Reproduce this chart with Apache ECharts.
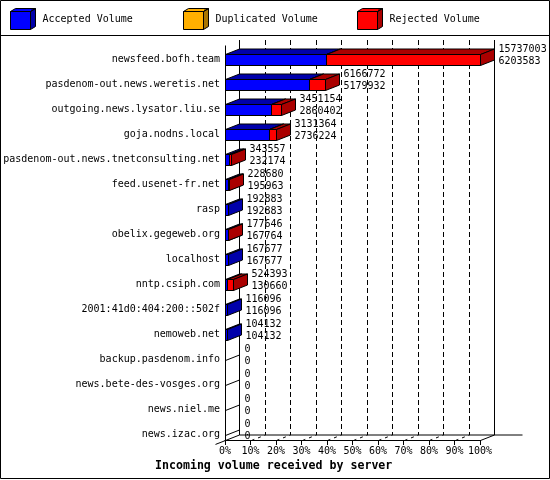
<!DOCTYPE html>
<html><head><meta charset="utf-8">
<script src="https://cdn.jsdelivr.net/npm/echarts@6/dist/echarts.min.js"></script>
<style>html,body{margin:0;padding:0;background:#fff}#chart{width:550px;height:480px}</style>
</head><body><div id="chart"></div>
<script>
const categories = [
  'newsfeed.bofh.team',
  'pasdenom-out.news.weretis.net',
  'outgoing.news.lysator.liu.se',
  'goja.nodns.local',
  'pasdenom-out.news.tnetconsulting.net',
  'feed.usenet-fr.net',
  'rasp',
  'obelix.gegeweb.org',
  'localhost',
  'nntp.csiph.com',
  '2001:41d0:404:200::502f',
  'nemoweb.net',
  'backup.pasdenom.info',
  'news.bete-des-vosges.org',
  'news.niel.me',
  'news.izac.org'
];
const totalVolume = [15737003, 6166772, 3451154, 3131364, 343557, 228680, 192883, 177646, 167677, 524393, 116096, 104132, 0, 0, 0, 0];
const acceptedVolume = [6203583, 5179932, 2860402, 2736224, 232174, 195963, 192883, 167764, 167677, 130660, 116096, 104132, 0, 0, 0, 0];
const duplicatedVolume = [0, 0, 0, 0, 0, 0, 0, 0, 0, 0, 0, 0, 0, 0, 0, 0];
const percentTicks = [0, 10, 20, 30, 40, 50, 60, 70, 80, 90, 100];
const seriesNames = ['Accepted Volume', 'Duplicated Volume', 'Rejected Volume'];
const frontColors = ['#0000FF', '#FFAF00', '#FF0000'];
const sideColors = ['#0000AA', '#AA7500', '#AA0000'];

const MONO = "'DejaVu Sans Mono', monospace";
const DX = 14, DY = 5.5, HALF = 5.5;
const maxTotal = Math.max.apply(null, totalVolume);
const pct = v => v / maxTotal * 100;
const r = v => Math.round(v) + 0.5;

const segAccepted = categories.map((c, i) => [0, pct(acceptedVolume[i]), i]);
const segDuplicated = categories.map((c, i) => [pct(acceptedVolume[i]), pct(acceptedVolume[i] + duplicatedVolume[i]), i]);
const segRejected = categories.map((c, i) => [pct(acceptedVolume[i] + duplicatedVolume[i]), pct(totalVolume[i]), i]);
const labelData = categories.map((c, i) => [pct(totalVolume[i]), i]);
const frameData = percentTicks.map(v => [v, 0]);

function barRenderer(k) {
  return function (params, api) {
    const a = api.coord([api.value(0), api.value(2)]);
    const b = api.coord([api.value(1), api.value(2)]);
    if (!(b[0] - a[0] > 0)) return null;
    const x0 = r(a[0]), x1 = r(b[0]);
    const yt = r(a[1] - HALF), yb = r(a[1] + HALF);
    const st = (fill) => ({ fill: fill, stroke: '#000', lineWidth: 1 });
    return {
      type: 'group', children: [
        { type: 'polygon', shape: { points: [[x0, yt], [x1, yt], [x1, yb], [x0, yb]] }, style: st(frontColors[k]) },
        { type: 'polygon', shape: { points: [[x0, yt], [x0 + DX, yt - DY], [x1 + DX, yt - DY], [x1, yt]] }, style: st(sideColors[k]) },
        { type: 'polygon', shape: { points: [[x1, yt], [x1 + DX, yt - DY], [x1 + DX, yb - DY], [x1, yb]] }, style: st(sideColors[k]) }
      ]
    };
  };
}

function frameRenderer(params, api) {
  const v = api.value(0);
  const top = api.coord([v, 0]);
  const bot = api.coord([v, categories.length - 1]);
  const band = api.size([0, 1])[1];
  const x = r(top[0]);
  const yFrontTop = r(top[1] - band / 2 - 2);
  const yFloor = Math.round(bot[1] + HALF) + 0.5;
  const solid = { stroke: '#000', lineWidth: 1 };
  const dashed = { stroke: '#000', lineWidth: 1, lineDash: [5, 3] };
  const children = [];
  const isFirst = v === percentTicks[0];
  const isLast = v === percentTicks[percentTicks.length - 1];
  children.push({ type: 'line', shape: { x1: x + DX, y1: yFrontTop - DY, x2: x + DX, y2: yFloor - DY }, style: (isFirst || isLast) ? solid : dashed });
  if (isFirst) {
    children.push({ type: 'line', shape: { x1: x, y1: yFrontTop, x2: x, y2: yFloor }, style: solid });
    children.push({ type: 'line', shape: { x1: x - 10, y1: yFloor + DY * 10 / DX, x2: x + DX, y2: yFloor - DY }, style: solid });
  } else if (isLast) {
    const x0 = r(api.coord([percentTicks[0], 0])[0]);
    children.push({ type: 'line', shape: { x1: x, y1: yFloor, x2: x + DX, y2: yFloor - DY }, style: solid });
    children.push({ type: 'line', shape: { x1: x0 + DX, y1: yFloor - DY, x2: x + DX + 28, y2: yFloor - DY }, style: solid });
  } else {
    children.push({ type: 'line', shape: { x1: x, y1: yFloor, x2: x + DX, y2: yFloor - DY }, style: { stroke: '#000', lineWidth: 1, lineDash: [3, 4] } });
  }
  return { type: 'group', children: children };
}

function labelRenderer(params, api) {
  const i = params.dataIndex;
  const p = api.coord([api.value(0), api.value(1)]);
  const x = r(p[0]);
  const children = [];
  if (totalVolume[i] === 0) {
    children.push({ type: 'line', shape: { x1: x, y1: r(p[1]), x2: x + DX, y2: r(p[1]) - DY }, style: { stroke: '#000', lineWidth: 1 } });
  }
  children.push({
    type: 'text', x: x + DX + (totalVolume[i] ? 4 : 5), y: p[1] - 4.5,
    style: { text: totalVolume[i] + '\n' + acceptedVolume[i], fontFamily: MONO, fontSize: 10, lineHeight: 12, fill: '#000', align: 'left', verticalAlign: 'middle' }
  });
  return { type: 'group', children: children };
}

const cubeIcon = 'path://M0 3L20 3L20 21L0 21Z M0 3L5 0L25 0L20 3Z M20 3L25 0L25 18L20 21Z';
function legendFor(k, left) {
  return {
    left: left, top: 8, padding: 0, itemWidth: 25, itemHeight: 21,
    textStyle: { fontFamily: MONO, fontSize: 10, color: '#000', padding: [0, 0, 0, 2] },
    data: [{
      name: seriesNames[k], icon: cubeIcon,
      itemStyle: {
        color: { type: 'linear', x: 0, y: 0, x2: 1, y2: 0, colorStops: [
          { offset: 0, color: frontColors[k] }, { offset: 0.8, color: frontColors[k] },
          { offset: 0.8, color: sideColors[k] }, { offset: 1, color: sideColors[k] }] },
        borderColor: '#000', borderWidth: 1
      }
    }]
  };
}

const chart = echarts.init(document.getElementById('chart'), null, { renderer: 'canvas', width: 550, height: 480 });
chart.setOption({
  animation: false,
  backgroundColor: '#fff',
  title: {
    text: 'Incoming volume received by server', left: 155, top: 460, padding: 0,
    textStyle: { fontFamily: MONO, fontSize: 11.6, fontWeight: 'bold', color: '#000' }
  },
  legend: [legendFor(0, 10), legendFor(1, 183), legendFor(2, 357)],
  grid: { left: 225, width: 255, top: 47, height: 400, containLabel: false },
  xAxis: {
    type: 'value', min: percentTicks[0], max: percentTicks[percentTicks.length - 1],
    interval: percentTicks[1] - percentTicks[0], offset: -7,
    axisLine: { show: true, lineStyle: { color: '#000', width: 1 } },
    axisTick: { show: true, length: 5, lineStyle: { color: '#000' } },
    axisLabel: { formatter: '{value}%', margin: 6, fontFamily: MONO, fontSize: 10, color: '#000' },
    splitLine: { show: false }
  },
  yAxis: {
    type: 'category', inverse: true, data: categories,
    axisLine: { show: false }, axisTick: { show: false }, splitLine: { show: false },
    axisLabel: { margin: 5, fontFamily: MONO, fontSize: 10, color: '#000', interval: 0 }
  },
  graphic: [
    { type: 'rect', silent: true, shape: { x: 0.5, y: 0.5, width: 549, height: 478 }, style: { fill: 'none', stroke: '#000', lineWidth: 1 } },
    { type: 'line', silent: true, shape: { x1: 0, y1: 35.5, x2: 550, y2: 35.5 }, style: { stroke: '#000', lineWidth: 1 } }
  ],
  series: [
    { type: 'custom', name: 'frame', silent: true, clip: false, renderItem: frameRenderer, data: frameData, encode: { x: 0, y: 1 }, z: 1 },
    { type: 'custom', name: seriesNames[0], clip: false, renderItem: barRenderer(0), data: segAccepted, encode: { x: [0, 1], y: 2 }, itemStyle: { color: frontColors[0] }, z: 2 },
    { type: 'custom', name: seriesNames[1], clip: false, renderItem: barRenderer(1), data: segDuplicated, encode: { x: [0, 1], y: 2 }, itemStyle: { color: frontColors[1] }, z: 2 },
    { type: 'custom', name: seriesNames[2], clip: false, renderItem: barRenderer(2), data: segRejected, encode: { x: [0, 1], y: 2 }, itemStyle: { color: frontColors[2] }, z: 2 },
    { type: 'custom', name: 'labels', silent: true, clip: false, renderItem: labelRenderer, data: labelData, encode: { x: 0, y: 1 }, z: 3 }
  ]
});
</script></body></html>
